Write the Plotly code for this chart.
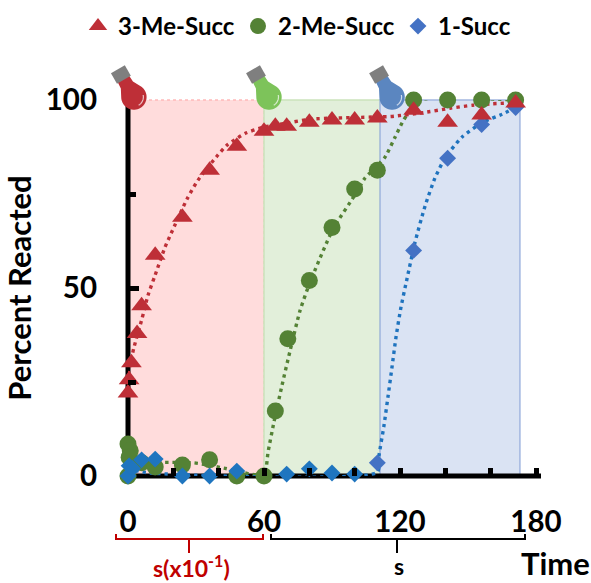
import math
import plotly.graph_objects as go

# Measured points
red_x = [0, 0.5, 1.5, 4, 6, 12, 24, 36, 48, 60, 65, 70, 80, 90, 100, 110, 126, 141, 156, 171]
red_y = [22.1, 25.6, 30.1, 37.9, 45.3, 58.7, 68.8, 81.3, 87.7, 91.7, 93, 93, 94.1, 94.7, 94.7, 95.2, 97.3, 94.1, 96, 99.2]
green_x = [0, 1, 0.5, 0, 6, 12, 24, 36, 48, 60, 65, 70.5, 80, 90, 100, 110, 126, 141, 156, 171]
green_y = [8.5, 6.7, 5, 0, 3.5, 2.4, 2.9, 4.3, 0, 0, 17.3, 36.5, 52, 66.1, 76.3, 81.3, 100, 100, 100, 100]
blue_x = [110, 126, 141, 156, 171, 0, 0.5, 2, 6, 12, 24, 36, 48, 70, 80, 90, 100]
blue_y = [3.5, 60, 84.5, 93.5, 98, 0, 2.7, 2, 4.3, 4.5, 0, 0, 1.3, 0.5, 1.9, 0.8, 0.5]
blue_shades = ["#4472C4"] * 5 + ["#1F75BF"] * 12

# Fit curves
red_fit_x = [0, 2.6, 6.2, 8.8, 11.9, 16.3, 19, 26, 30.9, 39.3, 43.7, 52, 60, 70.6, 80.3, 110, 116, 132, 142, 152, 161, 171]
red_fit_y = [27, 34.1, 41.9, 48, 53.3, 60.8, 64.5, 73.6, 78.7, 85.1, 88, 91.2, 92.8, 93.9, 94.9, 95.5, 95.6, 96.8, 97.8, 98.6, 99, 99.3]
green_fit_x = [0, 29, 42.3, 51.6, 60, 61.8, 64.4, 67.9, 71.5, 75.9, 80.3, 90.4, 100.6, 104.5, 110.3, 113.4, 117.8, 120.9, 123, 128.8, 170.7]
green_fit_y = [3.5, 3.5, 2.1, 0.8, 0.3, 6.4, 14.4, 24, 33.3, 44, 51.5, 65.6, 75.2, 79.2, 82.7, 84.8, 90.1, 93.9, 96, 100, 100]
blue_fit_x = [0, 9.7, 110, 110.7, 112.9, 114.7, 116.5, 118.2, 120.4, 123.1, 126.6, 131, 135.4, 139.8, 147.3, 156.6, 165, 170.7]
blue_fit_y = [1.9, 0.8, 1, 5.3, 13.3, 21.1, 29.1, 36.8, 44.8, 52.5, 62.1, 71.7, 79.2, 84.5, 90.1, 94.1, 96.2, 97.9]

x_ticks = [0, 60, 120, 180]
x_minor = [20, 40, 80, 100, 140, 160]
y_ticks = [0, 50, 100]
y_minor = [25, 75]

zone_edges = [0, 60, 111.2, 172.9]
bulb_x = [2.6, 62.2, 116.5]

RED, GREEN = "#BE2F37", "#548235"
LINE_BLUE = "#1F73BE"
FONT = "Lato"
W, H = 591, 583
L, R, T, B = 128, 541, 100, 476
X_MAX = 182.2


def py(y):
    return (B - y) / (B - T)


def paper_x(x):
    return (x - L) / (R - L)


def bracket(x0, x1, xs, color):
    ym = py(539)
    yt = py(534)
    ys = py(553)
    p = (f"M{paper_x(x0)},{yt} L{paper_x(x0)},{ym} L{paper_x(x1)},{ym} L{paper_x(x1)},{yt} "
         f"M{paper_x(xs)},{ym} L{paper_x(xs)},{ys}")
    return dict(type="path", xref="paper", yref="paper", path=p,
                line=dict(color=color, width=2), layer="above")


def bulb(xa, body):
    # local axes: u towards the cap, v across it
    ux, uy = -0.5, 0.866
    vx, vy = 0.866, 0.5

    def pt(u, v):
        return (u * ux + v * vx, u * uy + v * vy)

    def path(points):
        return "M" + " L".join(f"{a:.2f},{b:.2f}" for a, b in points) + " Z"

    outline = []
    for i in range(0, 37):
        ang = math.radians(60 + i * 240 / 36)
        outline.append(pt(12.7 * math.cos(ang), 12.7 * math.sin(ang)))
    outline += [pt(14, -7), pt(22, -6.5), pt(22, 6.5), pt(14, 7)]
    cap = [pt(20, -8), pt(32, -8), pt(32, 8), pt(20, 8)]
    hl = []
    for i in range(0, 9):
        ang = math.radians(-60 + i * 9)
        hl.append((9.5 * math.cos(ang), 9.5 * math.sin(ang)))
    common = dict(type="path", xref="paper", yref="paper", xsizemode="pixel", ysizemode="pixel",
                  xanchor=xa / X_MAX, yanchor=py(97), layer="above")
    return [
        dict(path=path(outline), fillcolor=body, line=dict(width=0), **common),
        dict(path=path(cap), fillcolor="#7F7F7F", line=dict(width=0), **common),
        dict(path="M" + " L".join(f"{a:.2f},{b:.2f}" for a, b in hl),
             line=dict(color="rgba(255,255,255,0.7)", width=1.2), **common),
    ]


def zone(i, fill, edge, dash):
    return dict(type="rect", xref="paper", yref="paper", x0=zone_edges[i] / X_MAX, x1=zone_edges[i + 1] / X_MAX,
                y0=0, y1=1, fillcolor=fill, line=dict(color=edge, width=1.5, dash=dash), layer="below")


shapes = [
    zone(0, "#FFDCDC", "#FFB9B9", "dot"),
    zone(1, "#E2EFDA", "#CBE3BC", "solid"),
    zone(2, "#DAE3F3", "#A2B7E0", "solid"),
    dict(type="line", xref="paper", yref="paper", x0=0, x1=1, y0=0, y1=0, line=dict(color="black", width=5), layer="below"),
    dict(type="line", xref="paper", yref="paper", x0=0, x1=0, y0=0, y1=1, line=dict(color="black", width=5), layer="below"),
    bracket(116, 263, 189, "#C00000"),
    bracket(271, 525, 397, "#000000"),
]
shapes += bulb(bulb_x[0], "#BE2F37") + bulb(bulb_x[1], "#7DC35A") + bulb(bulb_x[2], "#5B86C0")

fig = go.Figure()
for fx, fy, col in [(green_fit_x, green_fit_y, GREEN), (blue_fit_x, blue_fit_y, LINE_BLUE), (red_fit_x, red_fit_y, RED)]:
    fig.add_trace(go.Scatter(x=fx, y=fy, mode="lines", showlegend=False, hoverinfo="skip", cliponaxis=False,
                             line=dict(color=col, width=3.4, dash="3.4px,4px", shape="spline", smoothing=0.6)))
fig.add_trace(go.Scatter(x=green_x, y=green_y, mode="markers", name="2-Me-Succ", legendrank=2, cliponaxis=False,
                         marker=dict(symbol="circle", size=17, color=GREEN)))
fig.add_trace(go.Scatter(x=blue_x, y=blue_y, mode="markers", name="1-Succ", legendrank=3, cliponaxis=False,
                         marker=dict(symbol="diamond", size=13, color=blue_shades)))
fig.add_trace(go.Scatter(x=red_x, y=red_y, mode="markers", name="3-Me-Succ", legendrank=1, cliponaxis=False,
                         marker=dict(symbol="triangle-up", size=18, color=RED)))

annotations = [
    dict(text="<b>s(x10<sup>-1</sup>)</b>", x=paper_x(191), y=py(566), font=dict(size=23, color="#C00000")),
    dict(text="<b>s</b>", x=paper_x(399), y=py(566), font=dict(size=23, color="#000000")),
    dict(text="<b>Time</b>", x=paper_x(555), y=py(563), font=dict(size=31, color="#000000")),
]
for a in annotations:
    a.update(xref="paper", yref="paper", showarrow=False, xanchor="center", yanchor="middle")
    a["font"]["family"] = FONT

tick_font = dict(family=FONT, size=29.5, weight="bold", color="black")
minor_style = dict(tickmode="array", ticks="inside", ticklen=8, tickwidth=5, tickcolor="black", showgrid=False)

fig.update_layout(
    width=W, height=H, autosize=False,
    margin=dict(l=L, r=W - R, t=T, b=H - B, pad=0, autoexpand=False),
    paper_bgcolor="white", plot_bgcolor="rgba(0,0,0,0)",
    font=dict(family=FONT, color="black"),
    shapes=shapes, annotations=annotations,
    legend=dict(orientation="h", x=paper_x(78), xanchor="left", y=py(4), yanchor="top",
                font=dict(family=FONT, size=24, weight="bold", color="black"),
                itemwidth=30, entrywidth=115, entrywidthmode="pixels", bgcolor="rgba(0,0,0,0)", traceorder="normal"),
    xaxis=dict(range=[0, X_MAX], showgrid=False, zeroline=False, showline=False, tickmode="array",
               tickvals=x_ticks, ticks="inside", ticklen=8, tickwidth=5, tickcolor="black",
               minor=dict(tickvals=x_minor, **minor_style),
               tickfont=tick_font, ticklabelstandoff=25),
    yaxis=dict(range=[0, 100], showgrid=False, zeroline=False, showline=False, tickmode="array",
               tickvals=y_ticks, ticks="inside", ticklen=11, tickwidth=5, tickcolor="black",
               minor=dict(tickvals=y_minor, **minor_style),
               tickfont=tick_font, ticklabelstandoff=30,
               title=dict(text="Percent Reacted", font=dict(family=FONT, size=31, weight="bold", color="black"), standoff=5)),
)
fig.write_html("out.html", config={"displayModeBar": False}, post_script="document.body.style.margin='0';")
